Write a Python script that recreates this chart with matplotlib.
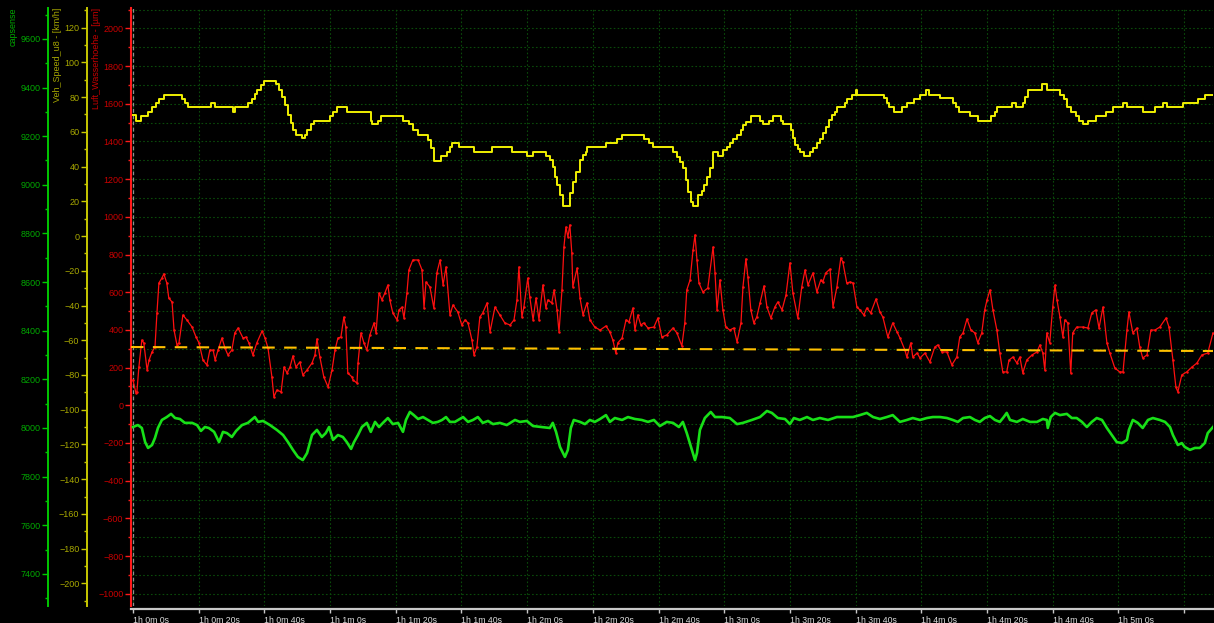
import matplotlib
matplotlib.use("Agg")
import matplotlib.pyplot as plt
from matplotlib.ticker import MultipleLocator

plt.rcParams['font.family'] = ['Liberation Sans', 'DejaVu Sans']

T0 = 3600  # recording offset in seconds (1h 0m 0s)

# Veh_Speed_u8 [km/h], sample-and-hold
speed_t = [0.0, 0.9, 2.4, 4.6, 5.8, 7.0, 7.9, 9.4, 14.9, 15.8, 16.7, 23.7, 25.0, 30.4, 31.0,
           35.0, 36.2, 37.1, 37.7, 39.0, 39.9, 43.5, 44.4, 45.4, 46.3, 47.2, 48.1, 48.7, 49.6,
           51.4, 52.4, 53.0, 54.2, 55.1, 60.0, 60.9, 62.1, 65.1, 72.4, 72.7, 74.6, 75.5, 82.2,
           84.0, 85.2, 86.8, 89.8, 90.7, 91.6, 93.8, 95.6, 96.5, 97.1, 99.2, 103.8, 109.3, 115.4,
           119.9, 121.8, 125.7, 126.9, 127.8, 128.5, 129.1, 130.0, 130.9, 133.0, 133.9, 134.9,
           136.1, 137.0, 137.9, 138.2, 144.0, 147.3, 148.9, 155.5, 157.1, 158.3, 164.4, 165.6,
           166.5, 167.4, 168.3, 168.9, 169.9, 170.5, 172.0, 173.2, 173.8, 174.7, 175.6, 176.6,
           178.1, 179.6, 180.8, 181.7, 182.6, 183.9, 185.1, 185.7, 186.6, 188.1, 190.9, 191.8,
           193.6, 194.8, 197.3, 197.9, 200.3, 200.9, 201.5, 202.4, 203.0, 204.3, 206.1, 207.0,
           208.2, 209.1, 210.0, 211.0, 211.9, 212.8, 213.7, 214.3, 216.7, 217.3, 218.9, 220.1,
           220.4, 228.6, 229.5, 230.1, 231.6, 234.1, 235.6, 237.7, 239.6, 241.4, 242.3, 245.7,
           249.6, 250.5, 251.4, 254.8, 257.2, 261.2, 262.4, 263.0, 267.6, 268.8, 270.9, 271.5,
           272.4, 276.7, 278.2, 282.2, 283.4, 284.3, 285.5, 287.0, 288.0, 289.2, 290.7, 293.1,
           296.2, 298.3, 301.4, 302.6, 307.4, 311.1, 313.5, 314.7, 319.6, 324.2, 326.3, 329.0]
speed_v = [69.7, 66.2, 69.1, 71.4, 74.3, 76.6, 78.9, 81.2, 78.9, 76.6, 74.3, 76.6, 74.3, 71.4, 74.3,
           76.6, 78.9, 81.8, 84.1, 87.0, 89.3, 87.5, 84.1, 80.0, 75.4, 69.7, 65.1, 61.0, 58.2,
           56.4, 58.2, 61.0, 64.5, 66.2, 69.1, 71.4, 74.3, 71.4, 66.2, 64.5, 66.2, 69.1, 66.2,
           64.5, 61.0, 58.2, 55.3, 50.7, 43.2, 46.1, 48.4, 51.2, 53.6, 51.2, 48.4, 51.2, 48.4,
           46.1, 48.4, 46.1, 43.8, 39.7, 34.0, 29.4, 23.6, 17.3, 24.8, 31.1, 36.9,
           43.8, 46.6, 48.4, 51.2, 53.6, 55.9, 58.2, 55.9, 53.6, 51.2, 48.4, 45.5,
           42.6, 39.2, 32.2, 25.3, 19.6, 17.3, 23.6, 25.9, 29.4, 34.0, 39.2, 48.4,
           46.1, 49.5, 51.2, 53.6, 55.9, 58.2, 61.0, 63.9, 65.6, 69.1, 66.2, 64.5,
           66.2, 69.1, 66.2, 64.5, 61.0, 56.4, 52.4, 50.1, 48.4, 46.1, 48.4, 50.7,
           53.6, 55.9, 59.3, 62.8, 66.8, 69.7, 71.4, 74.3, 76.6, 78.9, 81.2, 84.1,
           81.2, 79.5, 76.6, 74.3, 71.4, 74.3, 76.6, 78.9, 81.2, 84.1, 81.2, 79.5,
           76.6, 74.3, 71.4, 69.1, 66.2, 69.1, 71.4, 74.3, 76.6, 74.3, 76.6, 80.0,
           84.1, 87.5, 84.1, 81.2, 78.9, 74.3, 71.4, 69.1, 66.2, 64.5, 66.2, 69.1,
           71.4, 74.3, 76.6, 74.3, 71.4, 74.3, 76.6, 74.3, 76.6, 78.9, 81.2, 81.2]

# Luft_Wasserhoehe [µm]
level_t = [0.0, 0.9, 1.2, 1.8, 2.7, 3.3, 4.3, 4.9, 5.8, 6.7, 7.3, 7.9, 8.8, 9.4, 10.3, 10.9,
           11.9, 12.5, 13.4, 14.0, 15.2, 16.4, 18.0, 19.2, 20.1, 21.3, 22.5, 23.4, 24.4, 25.0,
           25.9, 27.1, 28.0, 28.9, 30.1, 31.0, 32.0, 33.5, 34.4, 35.3, 36.5, 37.7, 39.3, 40.2,
           41.1, 42.3, 42.9, 43.8, 45.1, 46.0, 46.9, 47.8, 48.7, 49.6, 50.8, 51.7, 53.0, 54.5,
           55.4, 56.0, 56.9, 58.1, 59.4, 60.6, 61.5, 62.4, 63.3, 64.2, 64.8, 65.4, 66.7, 67.0,
           68.2, 68.5, 69.4, 70.3, 71.2, 72.1, 73.4, 74.0, 74.9, 75.8, 76.7, 77.6, 78.2, 79.1,
           80.4, 81.0, 81.9, 82.5, 83.4, 84.0, 85.2, 86.8, 88.0, 88.6, 89.2, 90.4, 91.6, 92.5,
           93.5, 94.4, 95.3, 96.5, 97.4, 98.9, 100.1, 101.1, 102.0, 103.2, 103.8, 104.7, 105.6,
           106.5, 107.8, 108.7, 110.2, 111.7, 113.2, 114.8, 116.0, 116.9, 117.5, 118.4, 119.0,
           120.2, 120.8, 121.8, 122.7, 123.6, 124.8, 125.7, 126.3, 127.5, 128.2, 129.1, 129.7,
           130.6, 131.2, 131.8, 132.4, 133.0, 133.6, 133.9, 135.2, 136.1, 137.0, 138.2, 139.1,
           140.6, 142.2, 144.0, 145.2, 146.1, 147.0, 147.6, 148.9, 150.1, 151.0, 152.2, 152.8,
           153.7, 154.6, 155.5, 156.8, 158.6, 159.8, 161.0, 162.5, 164.4, 165.6, 167.1, 168.0,
           168.6, 169.6, 170.5, 171.1, 171.7, 172.3, 173.5, 175.0, 176.6, 177.2, 177.8, 178.7,
           179.6, 180.5, 181.7, 182.9, 183.9, 185.1, 185.7, 186.6, 187.2, 188.1, 189.0, 189.9,
           190.9, 192.1, 193.0, 194.2, 195.4, 196.3, 197.6, 198.8, 200.0, 200.9, 202.4, 203.6,
           204.6, 205.5, 207.0, 208.2, 209.4, 210.0, 210.9, 212.2, 213.1, 214.3, 215.5, 216.1,
           217.3, 218.3, 219.2, 220.4, 221.3, 222.5, 223.4, 224.6, 226.2, 227.4, 228.3, 229.8,
           231.3, 232.6, 233.5, 235.0, 235.6, 236.8, 237.4, 238.7, 239.6, 241.1, 242.6, 244.1,
           245.0, 246.3, 247.8, 249.3, 250.8, 251.7, 252.7, 253.9, 255.1, 256.3, 257.2, 258.4,
           259.3, 260.0, 260.9, 261.8, 263.0, 263.9, 264.8, 266.0, 266.7, 267.9, 269.1, 270.0,
           270.9, 272.1, 273.7, 275.2, 276.1, 277.0, 277.6, 278.2, 279.1, 280.0, 280.7, 281.3,
           282.2, 283.1, 283.7, 284.6, 285.5, 286.1, 287.3, 289.2, 290.7, 291.9, 293.1, 294.1,
           295.3, 296.5, 297.4, 298.9, 300.4, 301.4, 302.6, 303.2, 304.4, 305.6, 306.5, 307.4,
           308.7, 309.9, 311.1, 312.6, 314.5, 315.4, 316.6, 317.5, 318.1, 319.3, 320.8, 322.4,
           323.9, 325.4, 327.2, 328.8]
level_v = [134, 65, 71, 203, 346, 331, 187, 240, 283, 309, 490, 649, 675, 697, 649, 569,
           548, 399, 320, 331, 479, 453, 415, 362, 331, 240, 214, 293, 293, 240,
           293, 357, 304, 267, 293, 384, 410, 357, 362, 331, 267, 331, 394, 357,
           304, 150, 44, 81, 71, 203, 171, 203, 262, 203, 230, 161, 187, 224,
           267, 352, 256, 150, 97, 187, 293, 357, 362, 468, 415, 171, 150, 134,
           118, 224, 384, 331, 293, 373, 437, 384, 596, 559, 596, 638, 559, 490,
           453, 506, 521, 463, 596, 718, 771, 771, 718, 516, 654, 628, 516, 702,
           771, 638, 734, 479, 532, 495, 426, 453, 437, 346, 267, 309, 468,
           490, 543, 389, 521, 479, 437, 426, 453, 559, 734, 468, 521,
           675, 575, 453, 569, 453, 638, 516, 559, 543, 612, 506, 389,
           612, 840, 946, 893, 957, 808, 628, 728, 569, 479, 543, 453,
           415, 399, 421, 389, 346, 277, 331, 357, 453, 442, 516, 399,
           479, 426, 437, 410, 415, 463, 362, 373, 410, 384, 315, 437,
           612, 665, 824, 904, 771, 649, 601, 622, 840, 702, 506, 665,
           506, 415, 399, 410, 336, 437, 628, 777, 681, 506, 437, 468,
           543, 633, 521, 463, 521, 548, 506, 585, 755, 596, 463, 628,
           718, 638, 702, 601, 665, 654, 702, 723, 521, 628, 782, 760,
           649, 654, 649, 521, 506, 479, 516, 490, 564, 495, 468, 362,
           437, 389, 357, 293, 256, 331, 256, 277, 251, 277, 230, 309,
           320, 283, 283, 214, 256, 362, 384, 458, 399, 384, 331, 384,
           506, 559, 612, 506, 399, 277, 177, 177, 240, 256, 224, 256,
           171, 240, 267, 283, 320, 277, 187, 384, 331, 521, 638, 559,
           468, 362, 453, 437, 171, 384, 415, 415, 410, 490, 506, 410,
           521, 331, 277, 198, 177, 177, 399, 495, 384, 410, 309, 251,
           267, 399, 399, 415, 463, 415, 240, 97, 71, 161, 177, 203,
           224, 267, 277, 384]

# capsense raw counts
cap_t = [0.0, 1.5, 2.7, 3.7, 4.6, 5.8, 6.7, 7.6, 8.8, 10.3, 11.6, 12.8, 14.3, 15.8, 18.0,
         19.5, 20.7, 21.9, 23.1, 24.7, 26.2, 27.4, 28.6, 30.1, 31.4, 33.2, 35.0, 37.1, 38.1,
         39.6, 41.7, 43.8, 45.7, 47.2, 48.7, 50.2, 51.7, 53.0, 54.5, 56.0, 57.5, 58.7, 59.7,
         60.9, 62.4, 63.9, 65.1, 66.4, 67.3, 68.5, 69.7, 71.2, 72.4, 73.7, 74.9, 76.1, 77.6,
         79.1, 80.7, 82.2, 83.1, 84.3, 85.5, 86.8, 88.3, 89.8, 91.3, 92.8, 94.1, 95.3, 96.5,
         98.0, 99.5, 100.5, 102.0, 103.5, 105.0, 106.5, 108.1, 109.6, 111.7, 113.8, 116.3,
         117.8, 119.9, 121.8, 124.5, 126.9, 127.8, 128.8, 130.0, 131.5, 132.4, 133.3, 134.2,
         136.1, 137.6, 139.1, 140.6, 142.2, 144.0, 145.2, 146.7, 148.9, 150.7, 152.8, 154.9,
         156.8, 158.6, 160.4, 162.5, 164.4, 166.2, 167.4, 168.6, 169.9, 171.1, 171.7, 172.6,
         174.1, 175.9, 177.2, 179.3, 181.7, 183.9, 185.7, 188.4, 190.9, 193.0, 194.5, 196.3,
         198.5, 200.0, 201.2, 203.0, 205.2, 207.0, 209.1, 211.6, 214.3, 217.3, 219.2, 221.3,
         223.4, 225.3, 227.4, 229.5, 231.3, 233.5, 235.6, 237.4, 239.6, 241.7, 243.5, 245.7,
         247.8, 249.6, 251.1, 252.7, 254.8, 256.3, 257.8, 259.3, 260.9, 262.4, 263.9, 265.1,
         266.0, 267.0, 269.1, 270.9, 273.1, 275.2, 277.0, 278.2, 278.5, 279.4, 280.7, 282.2,
         284.3, 285.8, 287.3, 288.9, 290.4, 291.9, 293.4, 295.0, 296.5, 298.0, 299.5, 301.1,
         302.6, 303.2, 304.4, 305.9, 307.4, 309.0, 310.5, 312.6, 314.2, 315.7, 316.6, 318.1,
         319.3, 320.2, 321.8, 323.3, 324.8, 326.3, 327.2, 328.8]
cap_v = [8004, 8012, 8000, 7942, 7918, 7930, 7959, 8000, 8033, 8045, 8058, 8041, 8037, 8021, 8021,
         8012, 7988, 8004, 8000, 7984, 7942, 7984, 7979, 7963, 7988, 8012, 8021, 8045, 8025,
         8029, 8012, 7992, 7971, 7942, 7910, 7881, 7868, 7897, 7971, 7992, 7963, 7979, 8004,
         7951, 7971, 7963, 7942, 7914, 7942, 7971, 8004, 8021, 7984, 8025, 8004, 8021, 8041,
         8016, 8021, 7984, 8033, 8066, 8053, 8037, 8045, 8033, 8021, 8025, 8033, 8045, 8025,
         8025, 8037, 8045, 8025, 8033, 8045, 8021, 8029, 8016, 8021, 8012, 8033,
         8025, 8029, 8008, 8004, 8000, 8021, 7984, 7922, 7881, 7910, 8000, 8033,
         8025, 8016, 8033, 8025, 8037, 8053, 8025, 8041, 8033, 8045, 8037, 8033,
         8025, 8033, 8008, 8025, 8021, 8004, 8025, 7979, 7922, 7868, 7897, 7992,
         8041, 8066, 8045, 8045, 8041, 8016, 8021, 8033, 8045, 8070, 8062, 8041,
         8037, 8016, 8041, 8033, 8045, 8033, 8041, 8033, 8045, 8045, 8045, 8053,
         8062, 8045, 8037, 8045, 8053, 8025, 8033, 8041, 8033, 8041, 8045, 8045,
         8041, 8033, 8025, 8041, 8045, 8033, 8025, 8041, 8049, 8033, 8025, 8045,
         8062, 8033, 8025, 8037, 8025, 8025, 8037, 8033, 8000, 8045, 8062, 8053,
         8058, 8041, 8041, 8025, 8004, 8025, 8041, 8033, 8000, 7971, 7942, 7938,
         7951, 7992, 8033, 8021, 8000, 8033, 8041, 8033, 8025, 8004, 7971, 7930,
         7938, 7922, 7910, 7918, 7918, 7938, 7979, 8004]

# reference level for the water height
ref_t = [-0.6, 328.8]
ref_v = [309, 288]

# time axis ticks every 20 s; the last one has no room for its text
time_ticks = list(range(0, 321, 20))


def time_label(t):
    total = T0 + t
    return f"{total // 3600}h {(total % 3600) // 60}m {total % 60}s"


time_labels = [time_label(t) if t <= 300 else '' for t in time_ticks]

W, H = 1214, 623
fig = plt.figure(figsize=(W / 100, H / 100), dpi=100, facecolor='black')
ax = fig.add_axes([131 / W, (H - 606) / H, (1213 - 131) / W, (606 - 8) / H])
ax.set_facecolor('black')

RED, RED_TXT = '#ff1a1a', '#c80000'
YEL, YEL_TXT = '#c8c800', '#a8a800'
GRN, GRN_TXT = '#00c800', '#00a800'
GRID = '#0a4a0a'

ax.set_xlim(-0.6, 328.8)
ax.set_ylim(-1065, 2108)

for side in ('top', 'right'):
    ax.spines[side].set_visible(False)
ax.spines['bottom'].set_color('#c8c8c8')
ax.spines['bottom'].set_linewidth(1.6)
ax.spines['bottom'].set_position(('outward', 2.5))
ax.spines['left'].set_color(RED)
ax.spines['left'].set_linewidth(1.5)
ax.tick_params(axis='y', which='major', colors=RED, labelcolor=RED_TXT, labelsize=6.5,
               length=4, width=1, pad=1.5)
ax.tick_params(axis='y', which='minor', colors=RED, length=2.5, width=1)
ax.tick_params(axis='x', colors='#c8c8c8', labelcolor='#dcdcdc', labelsize=6.3,
               length=3, width=1, direction='out', pad=1.5)

# grid
ax.yaxis.set_major_locator(MultipleLocator(200))
ax.yaxis.set_minor_locator(MultipleLocator(100))
ax.set_xticks(time_ticks, time_labels)
for lbl in ax.get_xticklabels():
    lbl.set_horizontalalignment('left')
ax.grid(which='both', axis='y', color=GRID, linestyle=(0, (1.5, 2)), linewidth=0.8)
ax.grid(which='major', axis='x', color=GRID, linestyle=(0, (1.5, 2)), linewidth=0.8)
ax.set_axisbelow(True)
ax.axvline(0, color='#909090', linestyle=(0, (3, 2)), linewidth=0.9)

# water level and its reference
ax.plot(level_t, level_v, color='#ff1010', linewidth=0.9, marker='o', markersize=1.8,
        markeredgewidth=0, zorder=3)
ax.plot(ref_t, ref_v, color='#ffc000', linewidth=1.5, dashes=(6, 4.5), zorder=4)


def side_axis(pos, color, label_color, lim, major, minor):
    a = ax.twinx()
    a.set_ylim(*lim)
    for side in ('top', 'right', 'bottom'):
        a.spines[side].set_visible(False)
    a.spines['left'].set_visible(True)
    a.spines['left'].set_position(('axes', pos))
    a.spines['left'].set_color(color)
    a.spines['left'].set_linewidth(1.4)
    a.yaxis.tick_left()
    a.yaxis.set_major_locator(MultipleLocator(major))
    a.yaxis.set_minor_locator(MultipleLocator(minor))
    a.tick_params(axis='y', which='major', colors=color, labelcolor=label_color,
                  labelsize=6.5, length=4, width=1, pad=1.5)
    a.tick_params(axis='y', which='minor', colors=color, length=2.5, width=1)
    return a


span = 1213 - 131
ax_spd = side_axis((87 - 131) / span, YEL, YEL_TXT, (-213, 131.3), 20, 10)
ax_cap = side_axis((48 - 131) / span, GRN, GRN_TXT, (7268, 9727), 200, 100)

ax_cap.plot(cap_t, cap_v, color='#18e018', linewidth=1.9, solid_joinstyle='round', zorder=3)
ax_spd.plot(speed_t, speed_v, color='#f0f000', linewidth=1.4, drawstyle='steps-post', zorder=3)

# channel names beside each scale
for x_px, name, c in [(13, 'capsense', GRN_TXT),
                      (57, 'Veh_Speed_u8 - [km/h]', YEL_TXT),
                      (97, 'Luft_Wasserhoehe - [µm]', RED_TXT)]:
    fig.text(x_px / W, 1 - 8 / H, name, rotation=90, ha='center', va='top',
             color=c, fontsize=6.5)

fig.savefig('out.png', dpi=100, facecolor='black')
